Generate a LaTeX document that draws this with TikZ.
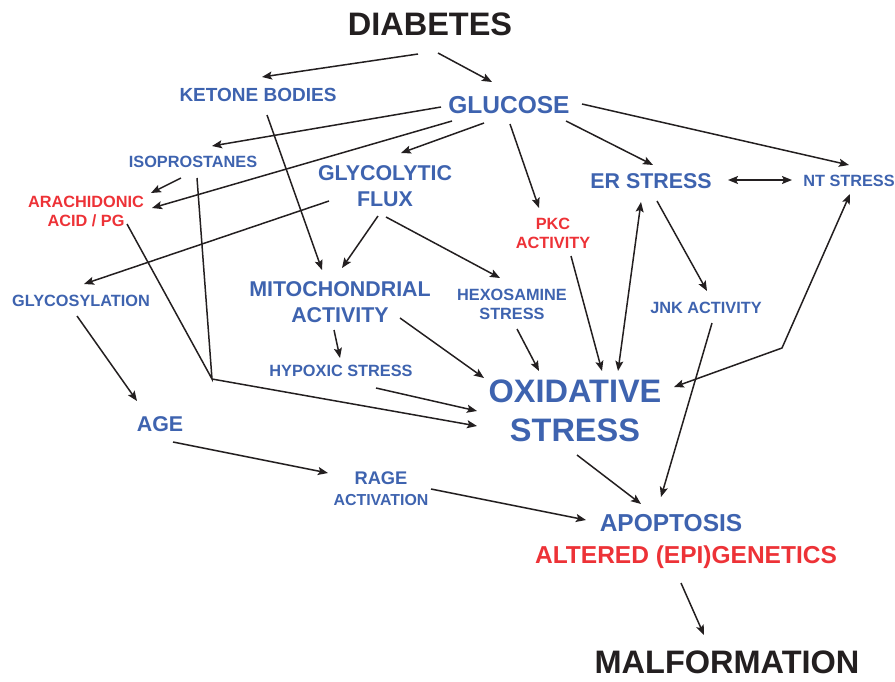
\documentclass[tikz,border=0pt]{standalone}
\usepackage{fontspec}
\setmainfont{Liberation Sans}
\usetikzlibrary{arrows.meta, calc}
\definecolor{dblue}{RGB}{62,99,175}
\definecolor{dred}{RGB}{237,50,55}
\definecolor{dink}{RGB}{35,31,32}

\begin{document}
\begin{tikzpicture}[x=1pt, y=-1pt,
    lbl/.style={inner sep=0pt, align=center, text=dblue},
    redlbl/.style={lbl, text=dred},
    fsm/.style={font=\bfseries\fontsize{16.3}{19}\selectfont},
    fket/.style={font=\bfseries\fontsize{19}{22}\selectfont},
    fmid/.style={font=\bfseries\fontsize{21.4}{26.5}\selectfont},
    fgl/.style={font=\bfseries\fontsize{24.5}{29}\selectfont},
    fbig/.style={font=\bfseries\fontsize{32.5}{39}\selectfont},
    arr/.style={draw=dink, line width=1.5pt, -{Stealth[length=10pt, width=8pt, inset=2pt]}},
    dbl/.style={arr, {Stealth[length=10pt, width=8pt, inset=2pt]}-{Stealth[length=10pt, width=8pt, inset=2pt]}},
    seg/.style={draw=dink, line width=1.5pt}]
    \useasboundingbox (0,0) rectangle (895,681);

    \node[lbl, fbig, text=dink] (diab) at (430,24) {DIABETES};
    \node[lbl, fket] (ket) at (258,95) {KETONE BODIES};
    \node[lbl, fgl] (gluc) at (509,105) {GLUCOSE};
    \node[lbl, fsm] (iso) at (193,162) {ISOPROSTANES};
    \node[redlbl, fsm] (ara) at (86,211) {ARACHIDONIC\\ACID / PG};
    \node[lbl, fmid] (flux) at (385,186) {GLYCOLYTIC\\FLUX};
    \node[redlbl, fsm] (pkc) at (553,233) {PKC\\ACTIVITY};
    \node[lbl, fmid] (er) at (651,181) {ER STRESS};
    \node[lbl, fsm] (nt) at (849,181) {NT STRESS};
    \node[lbl, fsm] (glyc) at (81,301) {GLYCOSYLATION};
    \node[lbl, fmid] (mito) at (340,302) {MITOCHONDRIAL\\ACTIVITY};
    \node[lbl, fsm] (hexo) at (512,304) {HEXOSAMINE\\STRESS};
    \node[lbl, fsm] (jnk) at (706,308) {JNK ACTIVITY};
    \node[lbl, fsm] (hypo) at (341,371) {HYPOXIC STRESS};
    \node[lbl, fbig] (ox) at (575,411) {OXIDATIVE\\STRESS};
    \node[lbl, fmid] (age) at (160,424) {AGE};
    \node[lbl, font=\bfseries\fontsize{18.3}{21}\selectfont] (rage) at (381,489)
        {RAGE\\{\fontsize{15.9}{21}\selectfont ACTIVATION}};
    \node[lbl, fgl] (apo) at (671,523) {APOPTOSIS};
    \node[redlbl, fgl] (alt) at (686,557) {ALTERED (EPI)GENETICS};
    \node[lbl, fbig, text=dink] (malf) at (727,662) {MALFORMATION};
    \coordinate (fork) at (212,379);
    \coordinate (kink) at (782,348);

    % from diabetes and glucose
    \draw[arr] ($(diab)+(-12,30)$) -- ($(ket)+(4,-18)$);
    \draw[arr] ($(diab)+(8,29)$) -- ($(gluc)+(-17,-23)$);
    \draw[arr] ($(gluc)+(-68,2)$) -- ($(iso)+(19,-16)$);
    \draw[arr] ($(gluc)+(-57,16)$) -- ($(ara)+(66,-3)$);
    \draw[arr] ($(gluc)+(-25,18)$) -- ($(flux)+(16,-33)$);
    \draw[arr] ($(gluc)+(1,19)$) -- ($(pkc)+(-14,-25)$);
    \draw[arr] ($(gluc)+(57,16)$) -- ($(er)+(2,-16)$);
    \draw[arr] ($(gluc)+(73,-1)$) -- ($(nt)+(0,-16)$);
    \draw[dbl] ($(er)+(77,-1)$) -- ($(nt)+(-57,-1)$);
    \draw[arr] ($(iso)+(-12,16)$) -- ($(ara)+(65,-18)$);

    % middle layer
    \draw[arr] ($(ket)+(9,20)$) -- ($(mito)+(-18,-32)$);
    \draw[arr] ($(flux)+(-7,30)$) -- ($(mito)+(2,-34)$);
    \draw[arr] ($(flux)+(1,31)$) -- ($(hexo)+(-12,-26)$);
    \draw[arr] ($(flux)+(-56,15)$) -- ($(glyc)+(3,-17)$);
    \draw[arr] ($(glyc)+(-4,15)$) -- ($(age)+(-23,-23)$);
    \draw[seg] ($(ara)+(41,13)$) -- (fork) -- ($(iso)+(4,16)$);
    \draw[arr] (fork) -- ($(ox)+(-98,15)$);
    \draw[arr] ($(mito)+(-6,28)$) -- ($(hypo)+(-1,-13)$);
    \draw[arr] ($(hypo)+(35,17)$) -- ($(ox)+(-98,0)$);
    \draw[arr] ($(mito)+(60,16)$) -- ($(ox)+(-91,-33)$);
    \draw[arr] ($(hexo)+(5,25)$) -- ($(ox)+(-36,-40)$);
    \draw[arr] ($(pkc)+(18,23)$) -- ($(ox)+(27,-40)$);
    \draw[dbl] ($(ox)+(43,-40)$) -- ($(er)+(-10,21)$);
    \draw[arr] ($(er)+(6,20)$) -- ($(jnk)+(1,-17)$);
    \draw[dbl] ($(ox)+(99,-24)$) -- (kink) -- ($(nt)+(1,13)$);

    % towards apoptosis
    \draw[arr] ($(jnk)+(6,15)$) -- ($(apo)+(-10,-26)$);
    \draw[arr] ($(ox)+(2,44)$) -- ($(apo)+(-30,-19)$);
    \draw[arr] ($(age)+(13,18)$) -- ($(rage)+(-53,-16)$);
    \draw[arr] ($(rage)+(50,0)$) -- ($(apo)+(-85,-3)$);
    \draw[arr] ($(alt)+(-5,26)$) -- ($(malf)+(-23,-27)$);
\end{tikzpicture}
\end{document}
